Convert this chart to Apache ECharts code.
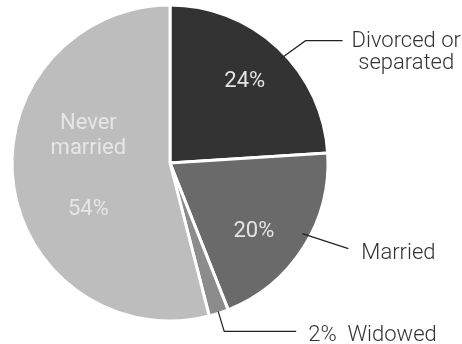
<!DOCTYPE html>
<html>
<head>
<meta charset="utf-8">
<script src="https://cdn.jsdelivr.net/npm/echarts@6/dist/echarts.min.js"></script>
<style>
  html, body { margin: 0; padding: 0; background: #ffffff; }
  #chart { width: 462px; height: 344px; }
</style>
</head>
<body>
<div id="chart"></div>
<script>
// Marital status shares, clockwise from 12 o'clock
const categories = ['Divorced or separated', 'Married', 'Widowed', 'Never married'];
const shares = [24, 20, 2, 54];
const outerLabels = ['Divorced or\nseparated', 'Married', '2%  Widowed', ''];
const sliceColors = ['#333333', '#6a6a6a', '#8c8c8c', '#bdbdbd'];

const FONT = 'Roboto';
const CENTER = [170, 163];
const RADIUS = 158;

// Leader lines: where on the slice they start (fraction of the slice's sweep and
// inset from the rim), the elbow/end offsets from that start, and the label spacing.
const leaders = [
  { frac: 0.54, inset: 6, pts: [[25, -18], [62, -18]], gap: 9, dy: -10, align: 'top' },
  { frac: 0.44, inset: 8, pts: [[46, 15]], gap: 13, dy: 5, align: 'middle' },
  { frac: 0.5, inset: 2, pts: [[6, 20], [78, 20]], gap: 12, dy: 4, align: 'middle' }
];

const total = shares.reduce((a, b) => a + b, 0);
const cumStart = shares.map((_, i) => shares.slice(0, i).reduce((a, b) => a + b, 0));

function anchorOf(i) {
  const L = leaders[i];
  const a = 2 * Math.PI * (cumStart[i] + L.frac * shares[i]) / total;
  const r = RADIUS - L.inset;
  const s = [CENTER[0] + r * Math.sin(a), CENTER[1] - r * Math.cos(a)];
  return [s].concat(L.pts.map((d) => [s[0] + d[0], s[1] + d[1]]));
}

const leaderGraphics = leaders.map((L, i) => ({
  type: 'polyline',
  silent: true,
  z: 10,
  shape: { points: anchorOf(i) },
  style: { stroke: '#222222', lineWidth: 1.2, fill: null }
}));

const chart = echarts.init(document.getElementById('chart'), null, { renderer: 'canvas' });

const mainData = categories.map((name, i) => ({
  name,
  value: shares[i],
  itemStyle: { color: sliceColors[i] },
  label: { show: outerLabels[i] !== '' }
}));

const innerData = categories.map((name, i) => ({
  name,
  value: shares[i],
  label: { show: name !== 'Widowed' }
}));

chart.setOption({
  animation: false,
  backgroundColor: '#ffffff',
  graphic: leaderGraphics,
  series: [
    {
      type: 'pie',
      center: CENTER,
      radius: [0, RADIUS],
      startAngle: 90,
      clockwise: true,
      silent: true,
      data: mainData,
      itemStyle: { borderColor: '#ffffff', borderWidth: 3 },
      label: {
        position: 'outside',
        fontFamily: FONT,
        fontWeight: 300,
        fontSize: 22,
        color: '#333333',
        lineHeight: 22,
        formatter: (p) => {
          const t = outerLabels[p.dataIndex];
          return t.split('\n').map((s) => '{c|' + s + '}').join('\n');
        },
        rich: {
          c: { align: 'center', fontFamily: FONT, fontWeight: 300, fontSize: 22, color: '#333333', lineHeight: 22 }
        }
      },
      labelLine: { show: false },
      labelLayout: (params) => {
        const i = params.dataIndex;
        const L = leaders[i];
        if (!L) return {};
        const pts = anchorOf(i);
        const e = pts[pts.length - 1];
        return {
          x: e[0] + L.gap,
          y: e[1] + L.dy,
          align: 'left',
          verticalAlign: L.align
        };
      }
    },
    {
      type: 'pie',
      center: CENTER,
      radius: [63, RADIUS],
      startAngle: 90,
      clockwise: true,
      silent: true,
      data: innerData,
      itemStyle: { color: 'rgba(0,0,0,0)', borderWidth: 0 },
      label: {
        position: 'inside',
        fontFamily: FONT,
        fontWeight: 400,
        fontSize: 22,
        color: '#e4e4e4',
        formatter: (p) => {
          if (p.name === 'Never married') {
            return '{n|Never}\n{n|married}\n{g|}\n{n|' + p.value + '%}';
          }
          return p.value + '%';
        },
        rich: {
          n: { fontFamily: FONT, fontSize: 22, color: '#e6e6e6', lineHeight: 25, align: 'center' },
          g: { lineHeight: 36 }
        }
      },
      labelLine: { show: false },
      labelLayout: (params) => {
        const shifts = [[-3, 1], [-12, 8], [0, 0], [31, -11]];
        const d = shifts[params.dataIndex];
        return { dx: d[0], dy: d[1] };
      }
    }
  ]
});
</script>
</body>
</html>
